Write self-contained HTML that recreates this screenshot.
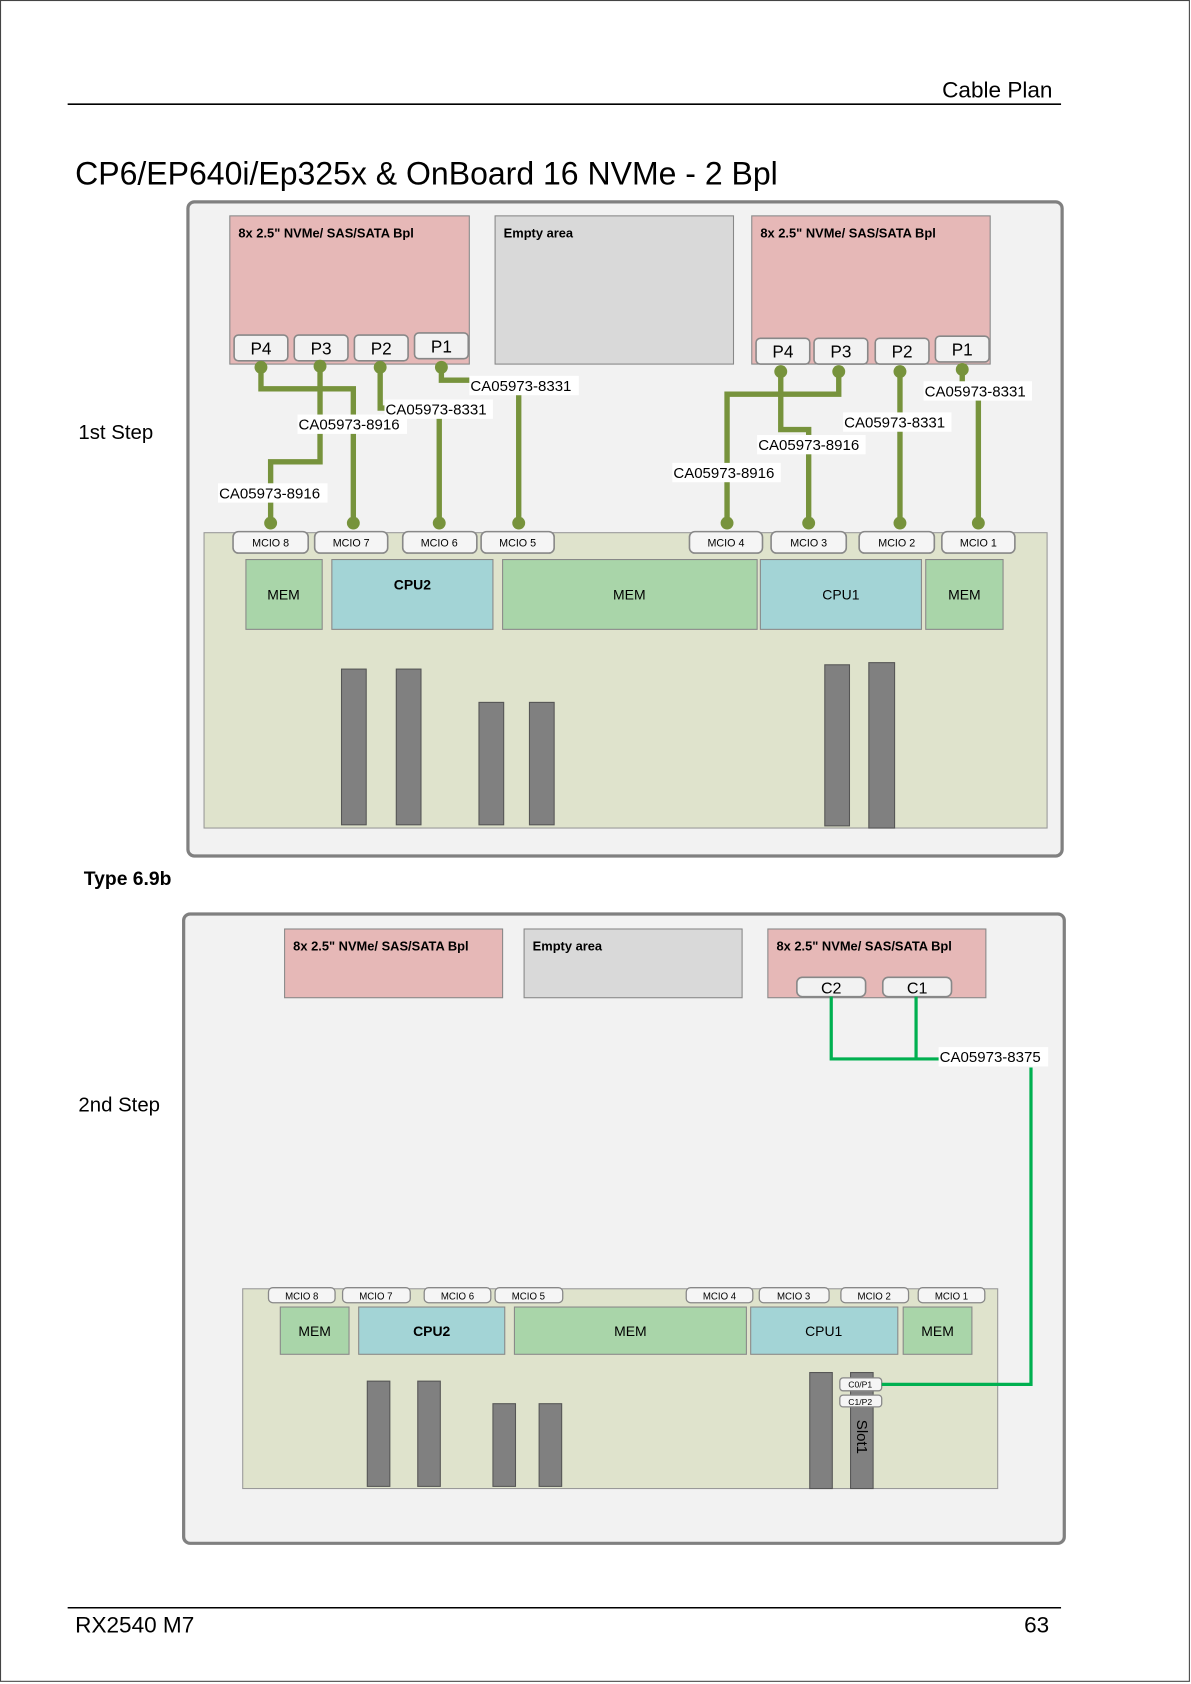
<!DOCTYPE html>
<html><head><meta charset="utf-8"><style>
html,body{margin:0;padding:0;background:#fff}
svg{display:block}
text{font-family:"Liberation Sans",sans-serif}
</style></head><body>
<svg width="1191" height="1684" viewBox="0 0 1109 1568" preserveAspectRatio="none" xmlns="http://www.w3.org/2000/svg">
<rect x="0.5" y="0.5" width="1107" height="1565" fill="#fff" stroke="#444" stroke-width="1"/>
<text x="980" y="91" font-size="21" text-anchor="end">Cable Plan</text>
<line x1="63" y1="97" x2="988" y2="97" stroke="#000" stroke-width="1.5"/>
<text x="70" y="172" font-size="29.8">CP6/EP640i/Ep325x &amp; OnBoard 16 NVMe - 2 Bpl</text>
<line x1="63" y1="1497" x2="988" y2="1497" stroke="#000" stroke-width="1.5"/>
<text x="70" y="1520" font-size="21">RX2540 M7</text>
<text x="977" y="1520" font-size="21" text-anchor="end">63</text>

<rect x="175" y="188" width="814" height="609" rx="6" fill="#f2f2f2" stroke="#808080" stroke-width="3"/>
<text x="73" y="409" font-size="19">1st Step</text>
<g font-size="12" font-weight="bold">
<rect x="214" y="201" width="223" height="138" fill="#e6b8b7" stroke="#888"/>
<text x="222" y="221">8x  2.5" NVMe/ SAS/SATA Bpl</text>
<rect x="461" y="201" width="222" height="138" fill="#d9d9d9" stroke="#888"/>
<text x="469" y="221">Empty area</text>
<rect x="700" y="201" width="222" height="138" fill="#e6b8b7" stroke="#888"/>
<text x="708" y="221">8x  2.5" NVMe/ SAS/SATA Bpl</text>
</g>
<g font-size="16" text-anchor="middle" fill="#f2f2f2" stroke="#888" stroke-width="1.5">
<rect x="218" y="312" width="50" height="24" rx="4"/><rect x="274" y="312" width="50" height="24" rx="4"/>
<rect x="330" y="312" width="50" height="24" rx="4"/><rect x="386" y="310" width="50" height="24" rx="4"/>
<rect x="704" y="315" width="50" height="24" rx="4"/><rect x="758" y="315" width="50" height="24" rx="4"/>
<rect x="815" y="315" width="50" height="24" rx="4"/><rect x="871" y="313" width="50" height="24" rx="4"/>
</g>
<g font-size="16" text-anchor="middle" fill="#000">
<text x="243" y="330">P4</text><text x="299" y="330">P3</text><text x="355" y="330">P2</text><text x="411" y="328">P1</text>
<text x="729" y="333">P4</text><text x="783" y="333">P3</text><text x="840" y="333">P2</text><text x="896" y="331">P1</text>
</g>
<rect x="190" y="496" width="785" height="275" fill="#dfe3cc" stroke="#999"/>
<g fill="#a9d5a9" stroke="#888"><rect x="229" y="521" width="71" height="65"/><rect x="468" y="521" width="237" height="65"/><rect x="862" y="521" width="72" height="65"/></g>
<g fill="#a3d4d6" stroke="#888"><rect x="309" y="521" width="150" height="65"/><rect x="708" y="521" width="150" height="65"/></g>
<g font-size="13" text-anchor="middle"><text x="264" y="558">MEM</text><text x="586" y="558">MEM</text><text x="898" y="558">MEM</text>
<text x="384" y="549" font-weight="bold">CPU2</text><text x="783" y="558">CPU1</text></g>
<g fill="#808080" stroke="#555"><rect x="318" y="623" width="23" height="145"/><rect x="369" y="623" width="23" height="145"/><rect x="446" y="654" width="23" height="114"/><rect x="493" y="654" width="23" height="114"/><rect x="768" y="619" width="23" height="150"/><rect x="809" y="617" width="24" height="154"/></g>
<g fill="#f5f5f5" stroke="#888" stroke-width="1.5">
<rect x="217" y="495" width="70" height="20" rx="5"/><rect x="293" y="495" width="68" height="20" rx="5"/><rect x="375" y="495" width="69" height="20" rx="5"/><rect x="448" y="495" width="68" height="20" rx="5"/>
<rect x="642" y="495" width="68" height="20" rx="5"/><rect x="718" y="495" width="70" height="20" rx="5"/><rect x="800" y="495" width="70" height="20" rx="5"/><rect x="877" y="495" width="68" height="20" rx="5"/>
</g>
<g font-size="10" text-anchor="middle"><text x="252" y="509">MCIO 8</text><text x="327" y="509">MCIO 7</text><text x="409" y="509">MCIO 6</text><text x="482" y="509">MCIO 5</text><text x="676" y="509">MCIO 4</text><text x="753" y="509">MCIO 3</text><text x="835" y="509">MCIO 2</text><text x="911" y="509">MCIO 1</text></g>
<g fill="none" stroke="#77933c" stroke-width="5">
<path d="M243 342V362H329V487"/><path d="M298 341V430H252V487"/><path d="M354 342V380H409V487"/><path d="M411 342V354H483V487"/>
<path d="M781 346V367H677V487"/><path d="M727 346V400H753V487"/><path d="M838 346V487"/><path d="M896 344V360H911V487"/>
</g>
<g fill="#77933c"><circle cx="243" cy="342" r="6"/><circle cx="298" cy="341" r="6"/><circle cx="354" cy="342" r="6"/><circle cx="411" cy="342" r="6"/>
<circle cx="727" cy="346" r="6"/><circle cx="781" cy="346" r="6"/><circle cx="838" cy="346" r="6"/><circle cx="896" cy="344" r="6"/>
<circle cx="252" cy="487" r="6"/><circle cx="329" cy="487" r="6"/><circle cx="409" cy="487" r="6"/><circle cx="483" cy="487" r="6"/>
<circle cx="677" cy="487" r="6"/><circle cx="753" cy="487" r="6"/><circle cx="838" cy="487" r="6"/><circle cx="911" cy="487" r="6"/></g>
<g fill="#fff"><rect x="437" y="350" width="102" height="18"/><rect x="358" y="372" width="101" height="18"/><rect x="277" y="386" width="102" height="18"/><rect x="203" y="450" width="102" height="18"/>
<rect x="860" y="355" width="101" height="18"/><rect x="785" y="384" width="101" height="18"/><rect x="705" y="405" width="101" height="18"/><rect x="626" y="431" width="101" height="18"/></g>
<g font-size="14"><text x="438" y="364">CA05973-8331</text><text x="359" y="386">CA05973-8331</text><text x="278" y="400">CA05973-8916</text><text x="204" y="464">CA05973-8916</text>
<text x="861" y="369">CA05973-8331</text><text x="786" y="398">CA05973-8331</text><text x="706" y="419">CA05973-8916</text><text x="627" y="445">CA05973-8916</text></g>

<text x="78" y="824" font-size="18" font-weight="bold">Type 6.9b</text>

<rect x="171" y="851" width="820" height="586" rx="6" fill="#f2f2f2" stroke="#808080" stroke-width="3"/>
<text x="73" y="1035" font-size="19">2nd Step</text>
<g font-size="12" font-weight="bold">
<rect x="265" y="865" width="203" height="64" fill="#e6b8b7" stroke="#888"/><text x="273" y="885">8x  2.5" NVMe/ SAS/SATA Bpl</text>
<rect x="488" y="865" width="203" height="64" fill="#d9d9d9" stroke="#888"/><text x="496" y="885">Empty area</text>
<rect x="715" y="865" width="203" height="64" fill="#e6b8b7" stroke="#888"/><text x="723" y="885">8x  2.5" NVMe/ SAS/SATA Bpl</text>
</g>
<g fill="#f2f2f2" stroke="#888" stroke-width="1.5"><rect x="742" y="910" width="64" height="18" rx="5"/><rect x="822" y="910" width="64" height="18" rx="5"/></g>
<g font-size="15" text-anchor="middle"><text x="774" y="925">C2</text><text x="854" y="925">C1</text></g>
<rect x="226" y="1200" width="703" height="186" fill="#dfe3cc" stroke="#999"/>
<g fill="#a9d5a9" stroke="#888"><rect x="261" y="1217" width="64" height="44"/><rect x="479" y="1217" width="216" height="44"/><rect x="841" y="1217" width="64" height="44"/></g>
<g fill="#a3d4d6" stroke="#888"><rect x="334" y="1217" width="136" height="44"/><rect x="699" y="1217" width="137" height="44"/></g>
<g font-size="13" text-anchor="middle"><text x="293" y="1244">MEM</text><text x="587" y="1244">MEM</text><text x="873" y="1244">MEM</text><text x="402" y="1244" font-weight="bold">CPU2</text><text x="767" y="1244">CPU1</text></g>
<g fill="#808080" stroke="#555"><rect x="342" y="1286" width="21" height="98"/><rect x="389" y="1286" width="21" height="98"/><rect x="459" y="1307" width="21" height="77"/><rect x="502" y="1307" width="21" height="77"/><rect x="754" y="1278" width="21" height="108"/><rect x="792" y="1278" width="21" height="108"/></g>
<text transform="translate(798,1322) rotate(90)" font-size="14">Slot1</text>
<g fill="#f5f5f5" stroke="#888" stroke-width="1.2">
<rect x="250" y="1199" width="62" height="14" rx="4"/><rect x="319" y="1199" width="63" height="14" rx="4"/><rect x="395" y="1199" width="62" height="14" rx="4"/><rect x="461" y="1199" width="63" height="14" rx="4"/>
<rect x="639" y="1199" width="62" height="14" rx="4"/><rect x="707" y="1199" width="65" height="14" rx="4"/><rect x="783" y="1199" width="63" height="14" rx="4"/><rect x="855" y="1199" width="62" height="14" rx="4"/>
<rect x="782" y="1283" width="39" height="12" rx="3"/><rect x="782" y="1299" width="39" height="11" rx="3"/></g>
<g font-size="9" text-anchor="middle"><text x="281" y="1210">MCIO 8</text><text x="350" y="1210">MCIO 7</text><text x="426" y="1210">MCIO 6</text><text x="492" y="1210">MCIO 5</text><text x="670" y="1210">MCIO 4</text><text x="739" y="1210">MCIO 3</text><text x="814" y="1210">MCIO 2</text><text x="886" y="1210">MCIO 1</text>
<text x="801" y="1292" font-size="8">C0/P1</text><text x="801" y="1308" font-size="8">C1/P2</text></g>
<g fill="none" stroke="#00b050" stroke-width="3"><path d="M774 928V986H875"/><path d="M853 928V986"/><path d="M960 994V1289H821"/></g>
<rect x="874" y="975" width="102" height="18" fill="#fff"/>
<text x="875" y="989" font-size="14">CA05973-8375</text>
</svg>
</body></html>
